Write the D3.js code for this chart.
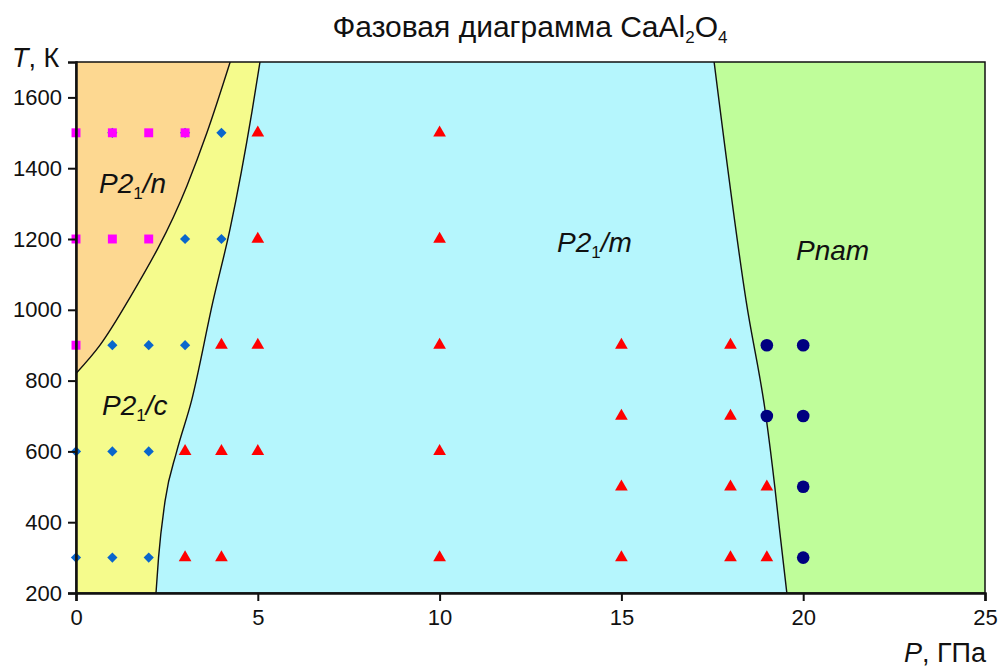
<!DOCTYPE html>
<html>
<head>
<meta charset="utf-8">
<script src="https://cdn.jsdelivr.net/npm/d3@7"></script>
<style>
  body { margin: 0; background: #fff; }
  text { font-family: "Liberation Sans", Arial, sans-serif; fill: #111; }
</style>
</head>
<body>
<svg id="chart" width="1001" height="667"></svg>
<script>
// Phase boundaries, [P (GPa), T (K)], ordered by pressure
var boundaryNC = [[0, 820], [0.66, 900], [1.43, 1025], [3.05, 1350], [3.6, 1500], [4.24, 1700]];
var boundaryCM = [[2.2, 200], [2.27, 300], [2.45, 460], [2.77, 600], [3.18, 744], [3.77, 1025], [4.24, 1230], [4.84, 1560], [5.06, 1700]];
var boundaryMP = [[17.55, 1700], [18.43, 1025], [18.98, 696], [19.22, 499], [19.36, 369], [19.55, 200]];

// Calculated points by phase
var pointsN = [[0, 1500], [1, 1500], [2, 1500], [3, 1500], [0, 1200], [1, 1200], [2, 1200], [0, 900]];
var pointsC = [[1, 1500], [3, 1500], [4, 1500], [3, 1200], [4, 1200], [1, 900], [2, 900], [3, 900],
               [0, 600], [1, 600], [2, 600], [0, 300], [1, 300], [2, 300]];
var pointsM = [[5, 1500], [10, 1500], [5, 1200], [10, 1200], [4, 900], [5, 900], [10, 900], [15, 900], [18, 900],
               [3, 600], [4, 600], [5, 600], [10, 600], [15, 700], [18, 700], [15, 500], [18, 500], [19, 500],
               [3, 300], [4, 300], [10, 300], [15, 300], [18, 300], [19, 300]];
var pointsP = [[19, 900], [20, 900], [19, 700], [20, 700], [20, 500], [20, 300]];

var xTicks = [0, 5, 10, 15, 20, 25];
var yTicks = [200, 400, 600, 800, 1000, 1200, 1400, 1600];

var svg = d3.select("#chart");
var margin = {top: 62, right: 16, bottom: 74, left: 76};
var width = +svg.attr("width") - margin.left - margin.right;
var height = +svg.attr("height") - margin.top - margin.bottom;

var x = d3.scaleLinear().domain([0, 25]).range([0, width]);
var y = d3.scaleLinear().domain([200, 1700]).range([height, 0]);

var g = svg.append("g").attr("transform", "translate(" + margin.left + "," + margin.top + ")");

g.append("clipPath").attr("id", "plot-clip")
  .append("rect").attr("width", width).attr("height", height);

var regions = g.append("g").attr("clip-path", "url(#plot-clip)");

var line = d3.line()
  .x(function(d) { return x(d[0]); })
  .y(function(d) { return y(d[1]); })
  .curve(d3.curveMonotoneX);

function regionPath(boundary) {
  // boundary curve, then close back along the left edge (P = 0)
  var first = boundary[0], last = boundary[boundary.length - 1];
  return line(boundary) +
    "L" + x(0) + "," + y(last[1]) +
    "L" + x(0) + "," + y(first[1]) + "Z";
}

// background = Pnam, then layer the lower pressure phases on top
regions.append("rect").attr("width", width).attr("height", height).attr("fill", "#bffd9a");
regions.append("path").attr("d", regionPath(boundaryMP)).attr("fill", "#b5f6fd");
regions.append("path").attr("d", regionPath(boundaryCM)).attr("fill", "#f5fb8c");
regions.append("path").attr("d", regionPath(boundaryNC)).attr("fill", "#fdd891");

[boundaryNC, boundaryCM, boundaryMP].forEach(function(b) {
  regions.append("path").attr("d", line(b))
    .attr("fill", "none").attr("stroke", "#111").attr("stroke-width", 1.4);
});

// points
function drawPoints(data, type, size, color, rot) {
  g.append("g").selectAll("path")
    .data(data)
    .enter().append("path")
    .attr("transform", function(d) {
      return "translate(" + x(d[0]) + "," + y(d[1]) + ")" + (rot ? " rotate(" + rot + ")" : "");
    })
    .attr("d", d3.symbol().type(type).size(size))
    .attr("fill", color);
}
drawPoints(pointsC, d3.symbolSquare, 52, "#0a66cc", 45);
drawPoints(pointsN, d3.symbolSquare, 80, "#ff00ff");
drawPoints(pointsM, d3.symbolTriangle, 70, "#ff0000");
drawPoints(pointsP, d3.symbolCircle, 125, "#000080");

// frame
g.append("rect").attr("width", width).attr("height", height)
  .attr("fill", "none").attr("stroke", "#111").attr("stroke-width", 1.5);

var xAxis = g.append("g")
  .attr("transform", "translate(0," + height + ")")
  .call(d3.axisBottom(x).tickValues(xTicks).tickSize(8).tickPadding(8).tickFormat(d3.format("d")));
var yAxis = g.append("g")
  .call(d3.axisLeft(y).tickValues(yTicks).tickSize(8).tickPadding(6).tickFormat(d3.format("d")));

[xAxis, yAxis].forEach(function(a) {
  a.select(".domain").attr("stroke", "#111").attr("stroke-width", 2.5);
  a.selectAll(".tick line").attr("stroke", "#111").attr("stroke-width", 2);
  a.selectAll("text").attr("font-size", 22).attr("fill", "#111")
    .attr("font-family", "Liberation Sans, Arial, sans-serif");
});

// title
var title = svg.append("text").attr("x", 530).attr("y", 37)
  .attr("text-anchor", "middle").attr("font-size", 30);
title.append("tspan").text("Фазовая диаграмма CaAl");
title.append("tspan").attr("font-size", 17).attr("dy", 6).text("2");
title.append("tspan").attr("dy", -6).text("O");
title.append("tspan").attr("font-size", 17).attr("dy", 6).text("4");

// axis titles
var tLabel = svg.append("text").attr("x", 12).attr("y", 67).attr("font-size", 27);
tLabel.append("tspan").attr("font-style", "italic").text("T");
tLabel.append("tspan").text(", К");

var pLabel = svg.append("text").attr("x", 986).attr("y", 662)
  .attr("text-anchor", "end").attr("font-size", 27);
pLabel.append("tspan").attr("font-style", "italic").text("P");
pLabel.append("tspan").text(", ГПа");

// phase labels
function phaseLabel(px, py, main, sub, rest) {
  var t = svg.append("text").attr("x", px).attr("y", py)
    .attr("font-size", 28).attr("font-style", "italic");
  t.append("tspan").text(main);
  if (sub) {
    t.append("tspan").attr("font-size", 17).attr("font-style", "normal").attr("dy", 6).text(sub);
    t.append("tspan").attr("dy", -6).text(rest);
  }
}
phaseLabel(99, 193, "P2", "1", "/n");
phaseLabel(102, 415, "P2", "1", "/c");
phaseLabel(557, 252, "P2", "1", "/m");
phaseLabel(796, 260, "Pnam");
</script>
</body>
</html>
